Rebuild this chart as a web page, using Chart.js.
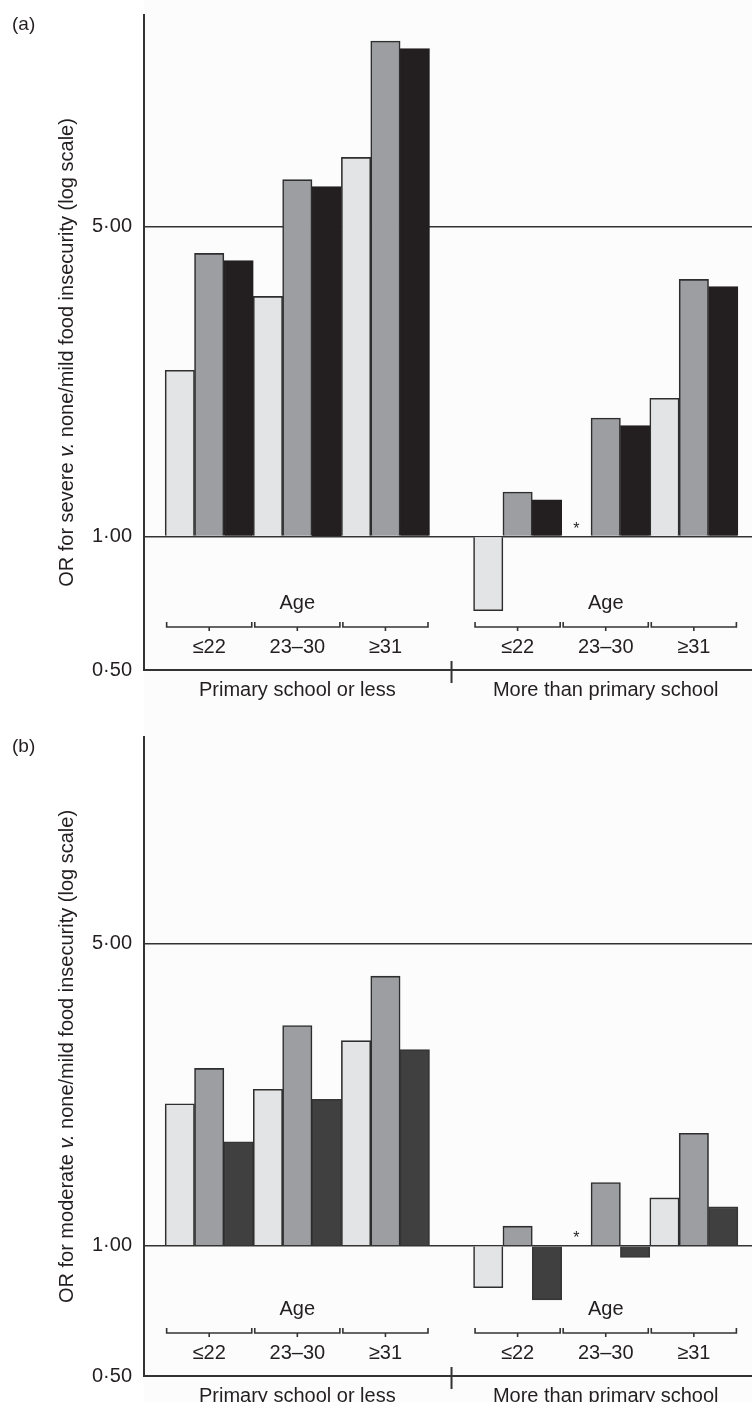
<!DOCTYPE html>
<html lang="en">
<head>
<meta charset="UTF-8">
<title>OR for food insecurity by age and schooling</title>
<script src="https://cdn.jsdelivr.net/npm/chart.js"></script>
<style>
  html, body { margin: 0; padding: 0; background: #fff; }
  .panel { position: relative; width: 752px; }
  #panelA { height: 700px; }
  #panelB { height: 702px; }
</style>
</head>
<body>
<div class="panel" id="panelA"><canvas id="chartA"></canvas></div>
<div class="panel" id="panelB"><canvas id="chartB"></canvas></div>

<script>
const ageGroups = ['≤22', '23–30', '≥31'];
const schoolGroups = ['Primary school or less', 'More than primary school'];
const yTicks = [0.5, 1, 5];

// order: primary ≤22, 23–30, ≥31, then more than primary ≤22, 23–30, ≥31
// (a) severe v. none/mild
const severeModel1 = [2.37, 3.48, 7.16, 0.68, null, 2.05];
const severeModel2 = [4.35, 6.38, 13.1, 1.26, 1.85, 3.80];
const severeModel3 = [4.19, 6.15, 12.6, 1.21, 1.78, 3.66];

// (b) moderate v. none/mild
const moderateModel1 = [2.13, 2.30, 2.98, 0.80, null, 1.29];
const moderateModel2 = [2.57, 3.23, 4.20, 1.11, 1.40, 1.82];
const moderateModel3 = [1.74, 2.18, 2.84, 0.75, 0.94, 1.23];

const GROUP_GAP = 0.5;   // extra room between the two school groups, in age-group widths
const xPos = severeModel1.map((_, i) => Math.floor(i / 3) * (3 + GROUP_GAP) + i % 3);
const groupCentres = schoolGroups.map((_, s) => s * (3 + GROUP_GAP) + 1);

const FONT = '"Liberation Sans", Arial, Helvetica, sans-serif';
const INK = '#231f20';
Chart.defaults.font.family = FONT;
Chart.defaults.color = INK;

function toPoints(values) {
    return values.map((v, i) => ({ x: xPos[i], y: v }));
}

function decorPlugin(letter, titleParts, titleShift) {
    return {
        id: 'decor',
        beforeDraw(chart) {
            const ctx = chart.ctx, a = chart.chartArea;
            ctx.save();
            ctx.fillStyle = '#fcfcfc';
            ctx.fillRect(a.left, 0, chart.width - a.left, chart.height);
            ctx.restore();
        },
        afterDraw(chart) {
            const ctx = chart.ctx, a = chart.chartArea;
            const xs = chart.scales.x, ys = chart.scales.y;
            const unit = xs.getPixelForValue(1) - xs.getPixelForValue(0);
            ctx.save();
            ctx.fillStyle = INK;
            ctx.strokeStyle = '#333';

            // panel letter
            ctx.font = '19px ' + FONT;
            ctx.textAlign = 'left';
            ctx.textBaseline = 'middle';
            ctx.fillText(letter, 12, a.top + 10);

            // y title with italic v.
            ctx.save();
            ctx.translate(67, (a.top + a.bottom) / 2 + titleShift);
            ctx.rotate(-Math.PI / 2);
            let total = 0;
            titleParts.forEach(p => {
                ctx.font = (p.italic ? 'italic ' : '') + '20px ' + FONT;
                total += ctx.measureText(p.text).width;
            });
            let tx = -total / 2;
            ctx.textAlign = 'left';
            titleParts.forEach(p => {
                ctx.font = (p.italic ? 'italic ' : '') + '20px ' + FONT;
                ctx.fillText(p.text, tx, 0);
                tx += ctx.measureText(p.text).width;
            });
            ctx.restore();

            // brackets, Age and age labels
            const yBr = a.bottom - 43;
            ctx.lineWidth = 1.6;
            ctx.font = '20px ' + FONT;
            ctx.textAlign = 'center';
            ctx.textBaseline = 'alphabetic';
            schoolGroups.forEach((_, s) => {
                ageGroups.forEach((lab, g) => {
                    const cx = xs.getPixelForValue(s * (3 + GROUP_GAP) + g);
                    const l = cx - unit / 2 + 1.5, r = cx + unit / 2 - 1.5;
                    ctx.beginPath();
                    ctx.moveTo(l, yBr - 5);
                    ctx.lineTo(l, yBr);
                    ctx.lineTo(r, yBr);
                    ctx.lineTo(r, yBr - 5);
                    ctx.moveTo(cx, yBr);
                    ctx.lineTo(cx, yBr + 4);
                    ctx.stroke();
                    ctx.fillText(lab, cx, a.bottom - 17);
                });
                ctx.fillText('Age', xs.getPixelForValue(groupCentres[s]), a.bottom - 61);
            });

            // divider between school groups
            const dx = xs.getPixelForValue(2.5 + GROUP_GAP / 2);
            ctx.lineWidth = 2;
            ctx.beginPath();
            ctx.moveTo(dx, a.bottom - 9);
            ctx.lineTo(dx, a.bottom + 13);
            ctx.stroke();

            // asterisk where a bar is missing
            ctx.font = '16px ' + FONT;
            const base = ys.getPixelForValue(1);
            chart.data.datasets.forEach((ds, di) => {
                const meta = chart.getDatasetMeta(di);
                ds.data.forEach((pt, i) => {
                    if (pt.y === null) {
                        const bx = meta.data[i] ? meta.data[i].x : xs.getPixelForValue(pt.x);
                        ctx.fillText('*', bx, base - 3);
                    }
                });
            });
            ctx.restore();
        }
    };
}

function makePanel(canvasId, letter, titleParts, titleShift, m1, m2, m3, dark, top, xHeight) {
    const common = { base: 1, borderWidth: 1.6, borderSkipped: 'start' };
    return new Chart(document.getElementById(canvasId), {
        type: 'bar',
        data: {
            datasets: [
                { ...common, data: toPoints(m1), backgroundColor: '#e3e4e6', borderColor: '#2e2e2e' },
                { ...common, data: toPoints(m2), backgroundColor: '#9d9ea2', borderColor: '#2e2e2e' },
                { ...common, data: toPoints(m3), backgroundColor: dark, borderColor: dark === INK ? INK : '#363636' }
            ]
        },
        options: {
            responsive: true,
            maintainAspectRatio: false,
            animation: false,
            layout: { padding: { top: top, right: 0, left: 0, bottom: 0 } },
            plugins: { legend: { display: false }, tooltip: { enabled: false } },
            datasets: { bar: { categoryPercentage: 1, barPercentage: 1 } },
            scales: {
                x: {
                    type: 'linear',
                    offset: false,
                    min: -0.74,
                    max: 6.16,
                    afterBuildTicks: s => { s.ticks = groupCentres.map(v => ({ value: v })); },
                    afterFit: s => { s.height = xHeight; s.paddingLeft = 0; s.paddingRight = 0; },
                    grid: { display: false, drawTicks: false },
                    border: { display: true, color: '#333', width: 2 },
                    ticks: {
                        autoSkip: false,
                        maxRotation: 0,
                        padding: 8,
                        font: { size: 20 },
                        callback: (v, i) => schoolGroups[i]
                    }
                },
                y: {
                    type: 'logarithmic',
                    min: 0.5,
                    max: 15,
                    afterBuildTicks: s => { s.ticks = yTicks.map(v => ({ value: v })); },
                    afterFit: s => { s.width = 144; s.paddingTop = 0; s.paddingBottom = 0; },
                    grid: {
                        drawTicks: false,
                        lineWidth: 1.6,
                        color: c => (c.tick && c.tick.value === 0.5) ? 'rgba(0,0,0,0)' : '#333'
                    },
                    border: { display: true, color: '#333', width: 2 },
                    ticks: {
                        padding: 12,
                        font: { size: 20 },
                        callback: v => Number(v).toFixed(2).replace('.', '·')
                    }
                }
            }
        },
        plugins: [decorPlugin(letter, titleParts, titleShift)]
    });
}

makePanel('chartA', '(a)', [
    { text: 'OR for severe ' },
    { text: 'v.', italic: true },
    { text: ' none/mild food insecurity (log scale)' }
], 10, severeModel1, severeModel2, severeModel3, INK, 15, 30);

makePanel('chartB', '(b)', [
    { text: 'OR for moderate ' },
    { text: 'v.', italic: true },
    { text: ' none/mild food insecurity (log scale)' }
], 0, moderateModel1, moderateModel2, moderateModel3, '#404040', 37, 26);
</script>
</body>
</html>
